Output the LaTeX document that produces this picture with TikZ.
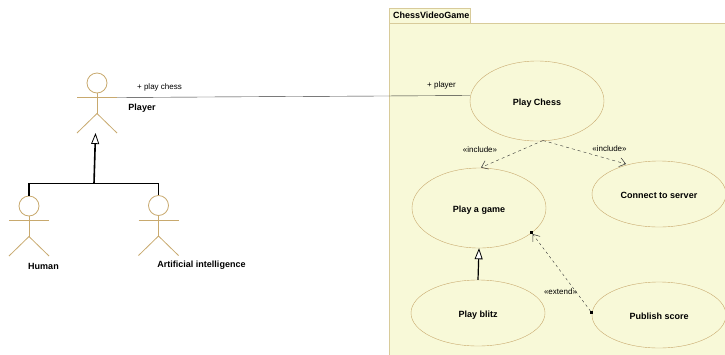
\documentclass[tikz,border=0pt]{standalone}
\usepackage{fontspec}
\setmainfont{Liberation Sans}
\usetikzlibrary{arrows.meta, shapes.geometric}
\definecolor{umltan}{HTML}{C8A96E}
\definecolor{umlframe}{HTML}{D8CB9A}
\definecolor{umlfill}{HTML}{F8F9D8}
\tikzset{every node/.style={align=center, font=\fontsize{8}{10}\selectfont}}
\tikzset{usecase/.style={draw=umltan, fill=umlfill, ellipse, inner sep=0pt, minimum width=134pt, minimum height=80pt, text height=8pt, text depth=0pt, font=\fontsize{9}{10}\selectfont\bfseries}}
\tikzset{usecase small/.style={usecase, minimum height=66pt}}
\tikzset{stick/.style={draw=umltan, line width=0.8pt}}
\tikzset{actorhead/.style={stick, circle, inner sep=0pt, minimum size=20pt}}
\tikzset{boldlabel/.style={font=\fontsize{9}{10}\selectfont\bfseries}}
\tikzset{generalize/.style={line width=1.6pt, black, -{Triangle[open, fill=white, length=11pt, width=8pt, line width=0.8pt]}}}
\tikzset{depend/.style={thin, black!80, dashed, -{Straight Barb[length=6pt, width=9pt, line width=0.5pt]}}}
\tikzset{endmark/.style={fill=black, inner sep=0pt, minimum size=2.5pt}}

\begin{document}
\begin{tikzpicture}[x=1pt, y=-1pt]
	\useasboundingbox (0,0) rectangle (725,354);

	% Package
	\draw[draw=umlframe, fill=umlfill, line width=1pt] (389.5,8) rectangle (470,23);
	\draw[draw=umlframe, fill=umlfill, line width=1pt] (389.5,23) rectangle (730,360);
	\node[boldlabel, anchor=west] (pkg) at (389.5,15.5) {ChessVideoGame};

	% Actors
	\foreach \actor/\x/\y in {player/97/83, human/29/206, ai/158.5/205.5}
	{
		\node[actorhead] (\actor) at (\x,\y) {};
		\draw[stick] (\x-20,\y+14.5) -- (\x+20,\y+14.5);
		\draw[stick] (\actor.south) -- (\x,\y+30.5) coordinate (\actor hip);
		\draw[stick] (\x-20,\y+50) -- (\actor hip) -- (\x+20,\y+50);
	}
	\coordinate (player hand) at (117,97.5);
	\coordinate (player foot) at (95.5,133);

	% Use cases
	\node[usecase] (chess) at (537,101) {Play Chess};
	\node[usecase] (game) at (479,208) {Play a game};
	\node[usecase small] (server) at (659,194) {Connect to server};
	\node[usecase small] (blitz) at (478,313) {Play blitz};
	\node[usecase small] (score) at (659,315) {Publish score};

	% Association
	\coordinate (chess door) at (470,95.5);
	\draw[thin, black!80] (player hand) -- (chess door);
	\node at (159.5,87.5) (playchess) {+ play chess};
	\node at (441.5,85.5) (plr) {+ player};

	% Generalization
	\coordinate (joint) at (94,183.5);
	\draw[line width=1.4pt, black] (human.north) |- (joint) -| (ai.north);
	\draw[generalize] (joint) -- (player foot);
	\draw[generalize, line width=1.2pt] (blitz.north) -- (game.south);

	% Dependencies
	\coordinate (chess base) at (543,140.5);
	\draw[depend] (chess base) -- (481,167.5);
	\draw[depend] (chess base) -- (626,164);
	\node[endmark] (ext a) at (591.5,312.5) {};
	\node[endmark] (ext b) at (531.5,232.5) {};
	\draw[depend, dash pattern=on 2.5pt off 3pt] (ext a) -- (ext b);

	% Labels
	\node at (480,150) (inc a) {«include»};
	\node at (609.5,149) (inc b) {«include»};
	\node at (560.5,292) (ext) {«extend»};
	\node[boldlabel] at (142,108) (playername) {Player};
	\node[boldlabel] at (43.5,266) (humanname) {Human};
	\node[boldlabel] at (201.5,265.5) (ainame) {Artificial intelligence};
\end{tikzpicture}
\end{document}
